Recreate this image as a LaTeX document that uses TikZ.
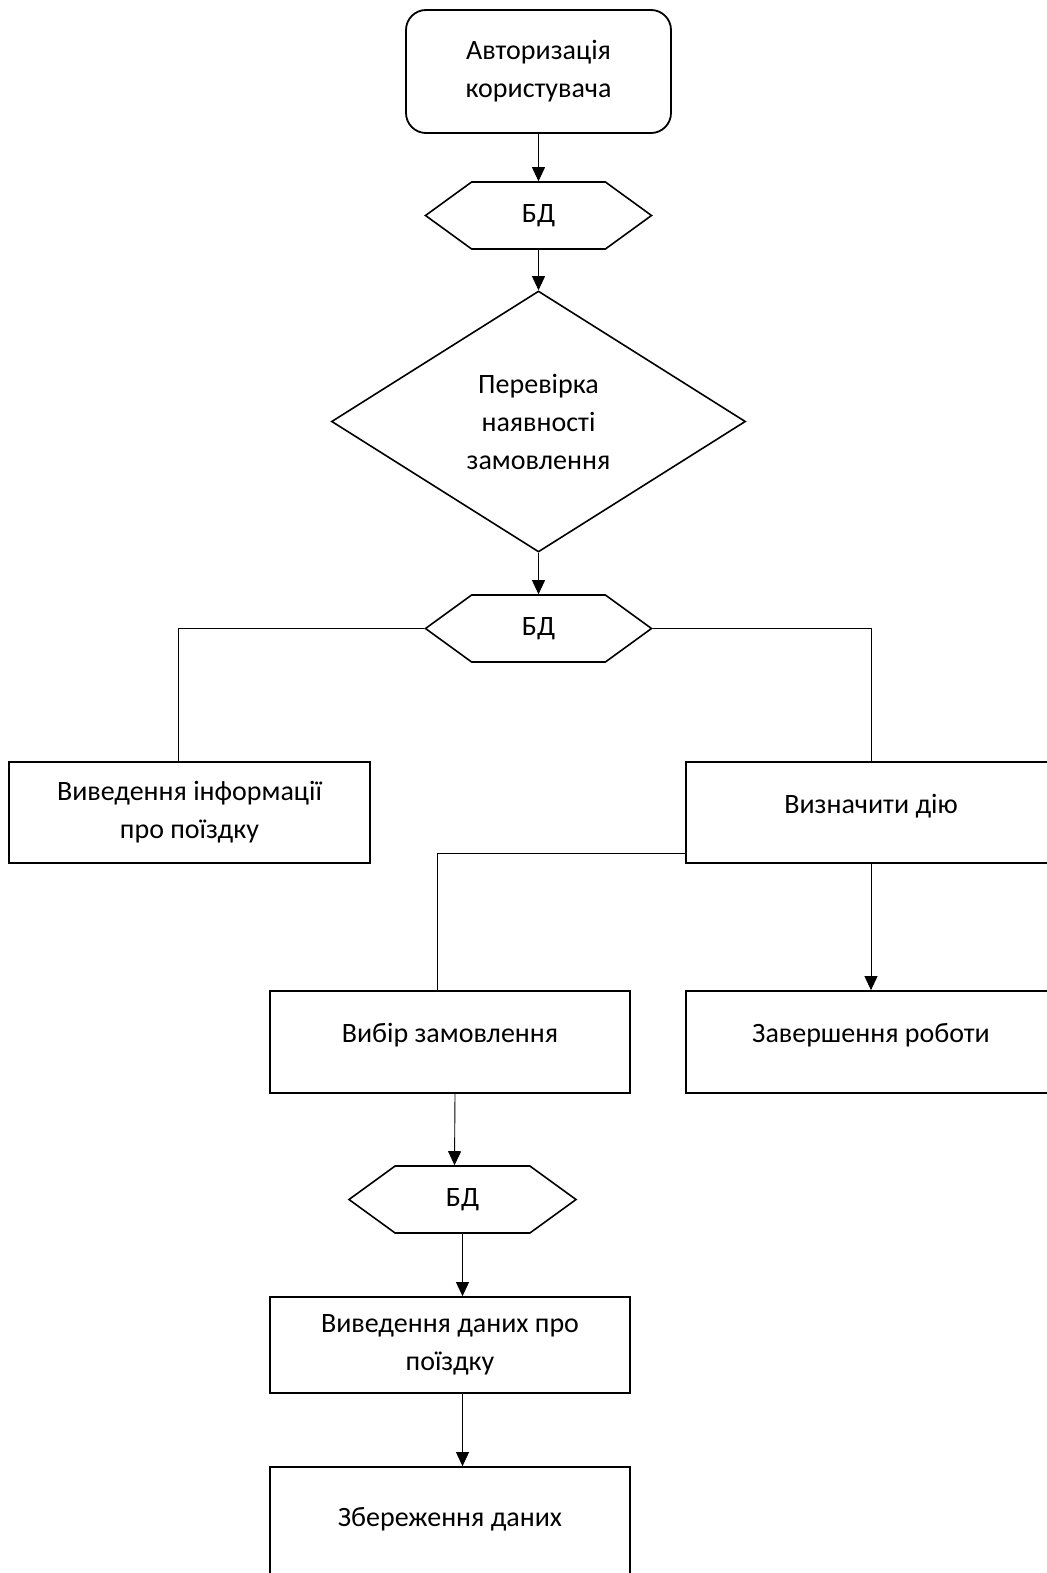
\documentclass[tikz,border=0pt]{standalone}
\usepackage{fontspec}
\setmainfont{Carlito}
\usetikzlibrary{arrows.meta,shapes.geometric,shapes.symbols}

\begin{document}
\begin{tikzpicture}[x=1pt, y=-1pt,
  font=\fontsize{28}{38}\selectfont,
  box/.style={draw, line width=1.8pt, inner sep=0pt, align=center},
  db/.style={draw, line width=1.6pt, shape=signal, signal to=west and east,
    signal pointer angle=72, minimum width=226pt, minimum height=67pt, inner sep=0pt},
  link/.style={line width=0.9pt},
  arr/.style={link, -{Triangle[length=14pt, width=13pt]}}]
  \useasboundingbox (0,0) rectangle (1046,1573);

  \node[box, rounded corners=20pt, minimum width=265pt, minimum height=123pt, text depth=6pt] (auth) at (538.5, 71.5) {Авторизація\\користувача};
  \node[db] (bd1) at (538.5, 215.5) {БД};
  \node[draw, line width=1.6pt, diamond, minimum width=414pt, minimum height=261pt, inner sep=0pt, align=center] (check) at (538.5, 421.5) {Перевірка\\наявності\\замовлення};
  \node[db] (bd2) at (538.5, 628.5) {БД};

  \node[box, minimum width=361pt, minimum height=101pt] (info) at (189.5, 812.5) {Виведення інформації\\про поїздку};
  \node[box, minimum width=370pt, minimum height=101pt, text depth=18pt] (act) at (871, 812.5) {Визначити дію};

  \node[box, minimum width=360pt, minimum height=102pt, text depth=18pt] (sel) at (450, 1042) {Вибір замовлення};
  \node[box, minimum width=370pt, minimum height=102pt, text depth=18pt] (fin) at (871, 1042) {Завершення роботи};

  \node[db, minimum width=227pt] (bd3) at (462.5, 1199.5) {БД};
  \node[box, minimum width=360pt, minimum height=96pt] (out) at (450, 1345) {Виведення даних про\\поїздку};
  \node[box, minimum width=360pt, minimum height=124pt, text depth=24pt] (save) at (450, 1529) {Збереження даних};

  \draw[arr] (auth.south) -- (bd1.north);
  \draw[arr] (bd1.south) -- (check.north);
  \draw[arr] (check.south) -- (bd2.north);
  \draw[link] (bd2.west) -| (info.north -| 178, 0);
  \draw[link] (bd2.east) -| (act.north);
  \draw[link] ([yshift=-41pt]act.west) -| ([xshift=-13pt]sel.north);
  \draw[arr] (act.south) -- (fin.north);
  \draw[arr] ([xshift=5pt]sel.south) -- ([xshift=-8pt]bd3.north);
  \draw[arr] (bd3.south) -- (bd3.south |- out.north);
  \draw[arr] (bd3.south |- out.south) -- (bd3.south |- save.north);

\end{tikzpicture}
\end{document}
